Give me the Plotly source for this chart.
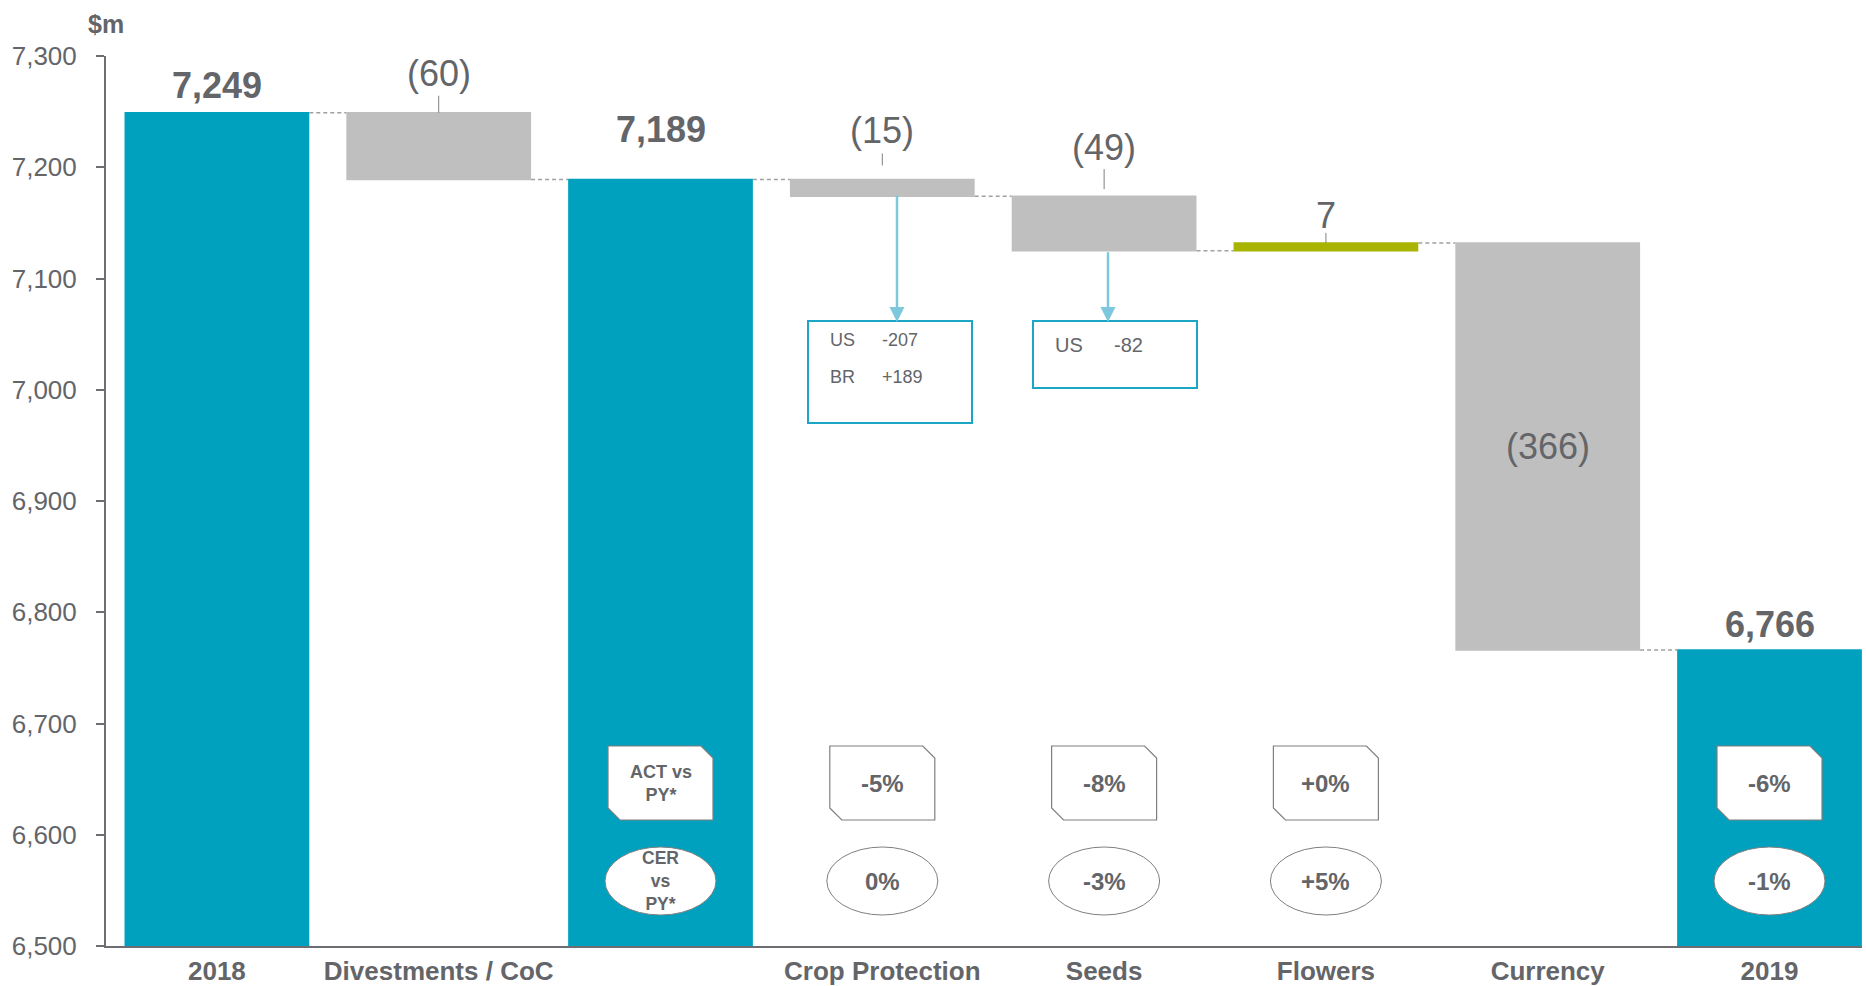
import plotly.graph_objects as go

# ---------------- data ----------------
categories = ["2018", "Divestments / CoC", "", "Crop Protection", "Seeds", "Flowers", "Currency", "2019"]
measures = ["absolute", "relative", "total", "relative", "relative", "relative", "relative", "total"]
values = [7249, -60, 0, -15, -49, 7, -366, 0]
act_vs_py = [None, None, "ACT vs<br>PY*", "-5%", "-8%", "+0%", None, "-6%"]
cer_vs_py = [None, None, "CER<br>vs<br>PY*", "0%", "-3%", "+5%", None, "-1%"]
crop_regions = ["US", "BR"]
crop_region_values = ["-207", "+189"]
seeds_regions = ["US"]
seeds_region_values = ["-82"]
y_ticks = [6500, 6600, 6700, 6800, 6900, 7000, 7100, 7200, 7300]

# ---------------- style ----------------
W, H = 1866, 986
M_L, M_R, M_T, M_B = 106, 4, 56, 40
Y_MIN, Y_MAX = 6500, 7300
X_MIN, X_MAX = -0.5, 7.417
TEAL = "#00A1BF"
GRAY = "#BFBFBF"
GREEN = "#A8B400"
TXT = "#636569"
AXIS = "#6D6E71"
FONT = "Liberation Sans, Arial, sans-serif"


def px_x(px):
    return X_MIN + (px - M_L) / (W - M_L - M_R) * (X_MAX - X_MIN)


def px_y(py):
    return Y_MAX - (py - M_T) / (H - M_T - M_B) * (Y_MAX - Y_MIN)


# running levels
starts, ends = [], []
level = 0
for m, v in zip(measures, values):
    if m == "absolute":
        s, e = 0, v
    elif m == "total":
        s, e = 0, level
    else:
        s, e = level, level + v
    level = e
    starts.append(s)
    ends.append(e)

label_gap = [27, 39, 50, 49, 49, 27, None, 26]
tick_span = [None, (0, 17), None, (14, 26), (7, 27), (0, 10), None, None]

fig = go.Figure(go.Waterfall(
    x=list(range(len(categories))),
    y=values,
    measure=measures,
    totals=dict(marker=dict(color=TEAL, line=dict(width=0))),
    decreasing=dict(marker=dict(color=GRAY, line=dict(width=0))),
    increasing=dict(marker=dict(color=GREEN, line=dict(width=0))),
    connector=dict(mode="between", line=dict(color="#A0A0A0", width=1.5, dash="4px,3px")),
    textinfo="none",
    hoverinfo="skip",
))

annotations = []
shapes = []

for i, (m, v) in enumerate(zip(measures, values)):
    top = max(starts[i], ends[i])
    if m in ("absolute", "total"):
        annotations.append(dict(x=i, y=ends[i], yshift=label_gap[i], text=f"{ends[i]:,}",
                                showarrow=False, yanchor="middle",
                                font=dict(family=FONT, size=36, color=TXT, weight="bold")))
    else:
        txt = f"({abs(v)})" if v < 0 else f"{v}"
        if abs(v) > 100:
            annotations.append(dict(x=i, y=(starts[i] + ends[i]) / 2, text=txt, showarrow=False,
                                    yanchor="middle", font=dict(family=FONT, size=36, color=TXT)))
        else:
            annotations.append(dict(x=i, y=top, yshift=label_gap[i], text=txt, showarrow=False,
                                    yanchor="middle", font=dict(family=FONT, size=36, color=TXT)))
            if tick_span[i]:
                shapes.append(dict(type="line", xref="x", yref="y", ysizemode="pixel", yanchor=top,
                                   x0=i, x1=i, y0=tick_span[i][0], y1=tick_span[i][1],
                                   line=dict(color="#7F7F7F", width=1)))

# bottom badges
for i in range(len(categories)):
    if act_vs_py[i]:
        shapes.append(dict(type="path", xref="x", yref="y", xsizemode="pixel", ysizemode="pixel",
                           xanchor=i, yanchor=Y_MIN,
                           path="M -52.5,138 L -52.5,200 L 40.5,200 L 52.5,188 L 52.5,126 L -40.5,126 Z",
                           fillcolor="white", line=dict(color="#7F7F7F", width=1.2)))
        big = "<br>" not in act_vs_py[i]
        annotations.append(dict(x=i, y=Y_MIN, yshift=163, text=act_vs_py[i], showarrow=False,
                                yanchor="middle",
                                font=dict(family=FONT, size=24 if big else 18, color=TXT, weight="bold")))
    if cer_vs_py[i]:
        shapes.append(dict(type="circle", xref="x", yref="y", xsizemode="pixel", ysizemode="pixel",
                           xanchor=i, yanchor=Y_MIN, x0=-55.5, x1=55.5, y0=31, y1=99,
                           fillcolor="white", line=dict(color="#7F7F7F", width=1)))
        big = "<br>" not in cer_vs_py[i]
        annotations.append(dict(x=i, y=Y_MIN, yshift=65, text=cer_vs_py[i], showarrow=False,
                                yanchor="middle",
                                font=dict(family=FONT, size=24 if big else 17.5, color=TXT, weight="bold")))

# callout boxes
callouts = [
    dict(cat=3, box=(808, 321, 972, 423), arrow_x=897, tail=ends[3] + 2,
         regions=crop_regions, vals=crop_region_values, x_txt=(828, 880), y_txt=[340, 377], size=18),
    dict(cat=4, box=(1033, 321, 1197, 388), arrow_x=1108, tail=ends[4],
         regions=seeds_regions, vals=seeds_region_values, x_txt=(1053, 1112), y_txt=[345], size=20),
]
for c in callouts:
    x0, y0, x1, y1 = c["box"]
    shapes.append(dict(type="rect", xref="x", yref="y", x0=px_x(x0), x1=px_x(x1), y0=px_y(y0), y1=px_y(y1),
                       fillcolor="white", line=dict(color="#1BA6C6", width=2)))
    annotations.append(dict(x=px_x(c["arrow_x"]), y=px_y(y0 + 1), ax=px_x(c["arrow_x"]), ay=c["tail"],
                            axref="x", ayref="y", xref="x", yref="y", text="", showarrow=True,
                            arrowhead=2, arrowsize=1.2, arrowwidth=2.5, arrowcolor="#7DC8DD", standoff=0))
    for r, val, ty in zip(c["regions"], c["vals"], c["y_txt"]):
        annotations.append(dict(x=px_x(c["x_txt"][0]), y=px_y(ty), text=r, showarrow=False, xanchor="left",
                                yanchor="middle", font=dict(family=FONT, size=c["size"], color=TXT)))
        annotations.append(dict(x=px_x(c["x_txt"][1]), y=px_y(ty), text=val, showarrow=False, xanchor="left",
                                yanchor="middle", font=dict(family=FONT, size=c["size"], color=TXT)))

# unit label
annotations.append(dict(x=X_MIN, y=Y_MAX, yshift=32, text="$m", showarrow=False, yanchor="middle",
                        font=dict(family=FONT, size=25, color=TXT, weight="bold")))

fig.update_layout(
    width=W, height=H, autosize=False,
    margin=dict(l=M_L, r=M_R, t=M_T, b=M_B, pad=0, autoexpand=False),
    paper_bgcolor="white", plot_bgcolor="white",
    showlegend=False, waterfallgap=0.167,
    annotations=annotations, shapes=shapes,
    xaxis=dict(range=[X_MIN, X_MAX], tickvals=list(range(len(categories))), ticktext=categories,
               showgrid=False, zeroline=False, showline=True, linecolor=AXIS, linewidth=2,
               ticks="", ticklabelstandoff=1, automargin=False,
               tickfont=dict(family=FONT, size=26, color=TXT, weight="bold")),
    yaxis=dict(range=[Y_MIN, Y_MAX], tickvals=y_ticks, tickformat=",", showgrid=False, zeroline=False,
               showline=True, linecolor=AXIS, linewidth=2, ticks="outside", ticklen=8, tickwidth=2,
               tickcolor=AXIS, ticklabelstandoff=14, automargin=False,
               tickfont=dict(family=FONT, size=26, color=TXT)),
)

fig.write_html("out.html")
